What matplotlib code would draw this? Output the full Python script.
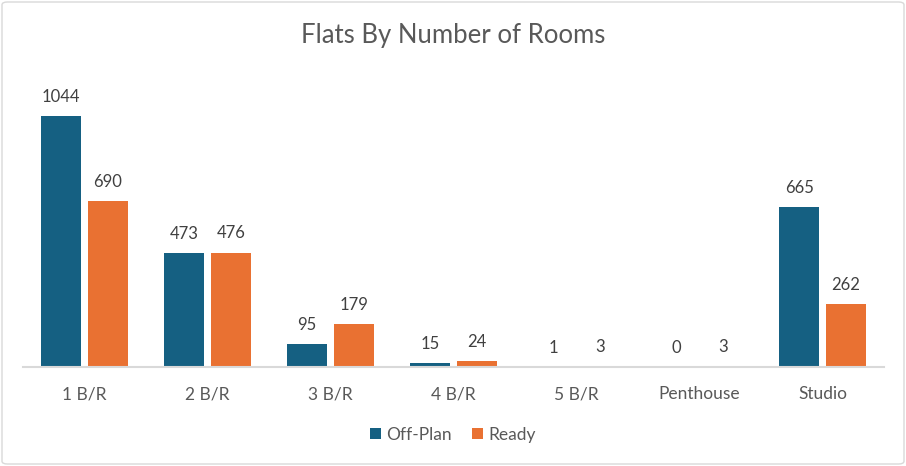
"""Flats by number of rooms: off-plan vs ready, clustered columns."""
import matplotlib
matplotlib.use("Agg")
import matplotlib.pyplot as plt  # noqa: E402
import numpy as np  # noqa: E402
from matplotlib.patches import FancyBboxPatch  # noqa: E402

plt.rcParams["font.family"] = ["Lato", "DejaVu Sans"]

categories = ["1 B/R", "2 B/R", "3 B/R", "4 B/R", "5 B/R", "Penthouse", "Studio"]
off_plan = [1044, 473, 95, 15, 1, 0, 665]
ready = [690, 476, 179, 24, 3, 3, 262]

BLUE = "#156082"
ORANGE = "#E97132"

W, H = 906, 466
fig = plt.figure(figsize=(W / 100, H / 100), dpi=100)
ax = fig.add_axes([23 / W, 99 / H, 861 / W, 297 / H])

x = np.arange(len(categories))
bw = 0.33
off = 0.19
b1 = ax.bar(x - off, off_plan, bw, color=BLUE, label="Off-Plan")
b2 = ax.bar(x + off, ready, bw, color=ORANGE, label="Ready")
for bars in (b1, b2):
    ax.bar_label(bars, padding=8, fontsize=12, color="#404040")

ax.set_xlim(-0.5, len(categories) - 0.5)
ax.set_ylim(0, 1044 * 297 / 251)
ax.set_xticks(x, categories, fontsize=12.5, color="#595959")
ax.tick_params(axis="x", length=0, pad=14)
ax.set_yticks([])
for s in ("top", "right", "left"):
    ax.spines[s].set_visible(False)
ax.spines["bottom"].set_color("#d9d9d9")
ax.spines["bottom"].set_linewidth(1.5)

fig.text(0.5, 1 - 35 / H, "Flats By Number of Rooms", ha="center", va="center",
         fontsize=18.5, color="#595959")

fig.legend(handles=[b1, b2], loc="center", bbox_to_anchor=(0.5, 1 - 435 / H),
           ncol=2, frameon=False, fontsize=12.5, handlelength=0.6, handleheight=0.6,
           handletextpad=0.3, columnspacing=1.2, labelcolor="#595959")

fig.patches.append(FancyBboxPatch((2 / W, 2 / H), 1 - 4 / W, 1 - 4 / H,
                                  boxstyle="round,pad=0,rounding_size=0.006",
                                  transform=fig.transFigure, fill=False,
                                  edgecolor="#d9d9d9", linewidth=1))

fig.savefig("out.png", dpi=100)
